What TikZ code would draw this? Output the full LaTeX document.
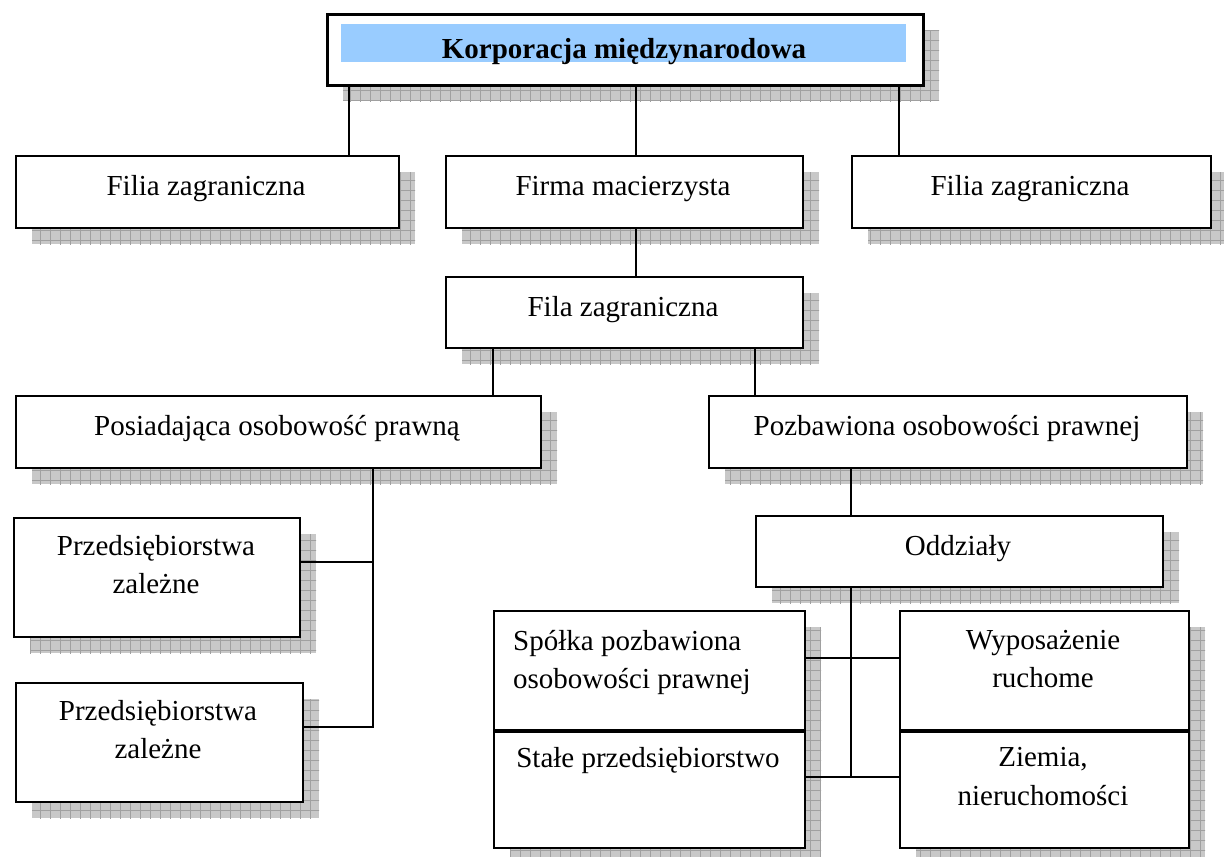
\documentclass[tikz,border=0pt]{standalone}
\usepackage{fontspec}
\setmainfont{Liberation Serif}
\definecolor{shadefill}{RGB}{200,200,200}
\definecolor{shadegrid}{RGB}{160,160,160}
\definecolor{titleblue}{RGB}{153,204,255}
\tikzset{
  box/.style={draw=black, line width=2pt, fill=white, inner sep=0pt, anchor=north west},
  txt/.style={font=\fontsize{29}{38}\selectfont, inner sep=0pt, anchor=base},
  txtleft/.style={txt, anchor=base west},
  link/.style={line width=2pt},
  divider/.style={line width=3.2pt},
}
% hatched drop shadow of a box: #1,#2 top-left corner, #3,#4 bottom-right corner
\newcommand\dropshadow[4]{%
  \fill[shadefill] (#1+17,#2+17) rectangle (#3+17,#4+17);
  \begin{scope}
    \clip (#1+17,#2+17) rectangle (#3+17,#4+17);
    \draw[shadegrid, line width=0.7pt, step=10pt] (#1+10,#2+10) grid (#3+30,#4+30);
  \end{scope}}
% box with shadow: name, left, top, width, height
\newcommand\orgbox[5]{%
  \dropshadow{#2}{#3}{#2+#4}{#3+#5}%
  \node[box, minimum width=#4pt, minimum height=#5pt] (#1) at (#2,#3) {};}
\begin{document}
\begin{tikzpicture}[x=1pt,y=-1pt]
\useasboundingbox (0,0) rectangle (1224,857);

% title box
\dropshadow{326}{13}{922}{84}
\node[box, line width=3pt, minimum width=596pt, minimum height=71pt] (corp) at (326,13) {};
\node[fill=titleblue, anchor=north west, inner sep=0pt, minimum width=565pt, minimum height=38pt] (corpband) at (341,24) {};
\node[txt, font=\fontsize{29}{38}\selectfont\bfseries] (corpt) at (624,58) {Korporacja międzynarodowa};

% first level
\orgbox{filiaL}{15}{155}{383}{72}
\node[txt] (filiaLt) at (206,195) {Filia zagraniczna};
\orgbox{firma}{445}{155}{357}{72}
\node[txt] (firmat) at (623,195) {Firma macierzysta};
\orgbox{filiaR}{851}{155}{359}{72}
\node[txt] (filiaRt) at (1030,195) {Filia zagraniczna};

% foreign branch
\orgbox{fila}{445}{276}{357}{71}
\node[txt] (filat) at (623,316) {Fila zagraniczna};

% legal personality split
\orgbox{posiad}{15}{395}{525}{72}
\node[txt] (posiadt) at (277,435) {Posiadająca osobowość prawną};
\orgbox{pozbaw}{708}{395}{478}{72}
\node[txt] (pozbawt) at (947,435) {Pozbawiona osobowości prawnej};

% subsidiaries
\orgbox{przed1}{13}{517}{286}{119}
\node[txt] (przed1a) at (156,555) {Przedsiębiorstwa};
\node[txt] (przed1b) at (156,593) {zależne};
\orgbox{przed2}{15}{682}{287}{119}
\node[txt] (przed2a) at (158,720) {Przedsiębiorstwa};
\node[txt] (przed2b) at (158,758) {zależne};

% branches
\orgbox{oddz}{755}{515}{407}{71}
\node[txt] (oddzt) at (958,555) {Oddziały};

% stacked boxes under the branches
\dropshadow{493}{610}{804}{847}
\node[box, minimum width=311pt, minimum height=119pt] (spolka) at (493,610) {};
\node[box, minimum width=311pt, minimum height=118pt] (stale) at (493,729) {};
\draw[divider] (spolka.south west) -- (spolka.south east);
\node[txtleft] (spolkaa) at (513,650) {Spółka pozbawiona};
\node[txtleft] (spolkab) at (513,688) {osobowości prawnej};
\node[txt] (stalet) at (648,767) {Stałe przedsiębiorstwo};

\dropshadow{899}{610}{1188}{847}
\node[box, minimum width=289pt, minimum height=119pt] (wypos) at (899,610) {};
\node[box, minimum width=289pt, minimum height=118pt] (ziemia) at (899,729) {};
\draw[divider] (wypos.south west) -- (wypos.south east);
\node[txt] (wyposa) at (1043,649) {Wyposażenie};
\node[txt] (wyposb) at (1043,687) {ruchome};
\node[txt] (ziemiaa) at (1043,766) {Ziemia,};
\node[txt] (ziemiab) at (1043,805) {nieruchomości};

% connectors
\draw[link] (corp.south -| 349,0) -- (filiaL.north -| 349,0);
\draw[link] (corp.south -| 636,0) -- (firma.north -| 636,0);
\draw[link] (corp.south -| 899,0) -- (filiaR.north -| 899,0);
\draw[link] (firma.south -| 636,0) -- (fila.north -| 636,0);
\draw[link] (fila.south -| 493,0) -- (posiad.north -| 493,0);
\draw[link] (fila.south -| 755,0) -- (pozbaw.north -| 755,0);
\draw[link] (posiad.south -| 373,0) |- (przed2.east |- 0,727);
\draw[link] (przed1.east |- 0,562) -- (373,562);
\draw[link] (pozbaw.south -| 851,0) -- (oddz.north -| 851,0);
\draw[link] (oddz.south -| 851,0) -- (851,777);
\draw[link] (spolka.east |- 0,658) -- (wypos.west |- 0,658);
\draw[link] (stale.east |- 0,777) -- (ziemia.west |- 0,777);
\end{tikzpicture}
\end{document}
